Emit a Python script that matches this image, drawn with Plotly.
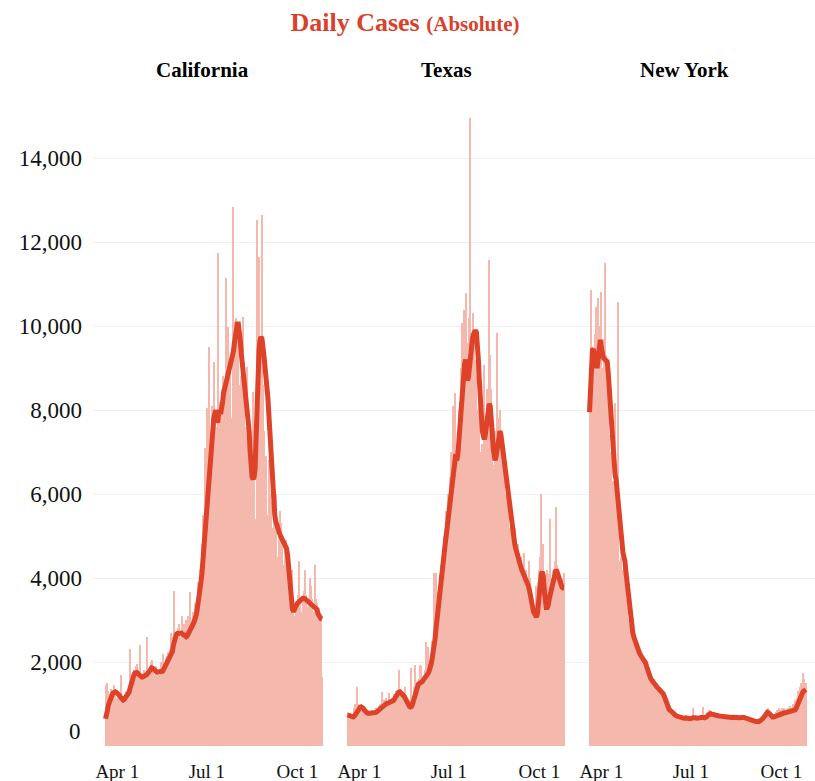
import pandas as pd
import plotly.graph_objects as go

# ---------------- data: daily new cases and 7-day average, from 2020-03-20 ----------------
START_DATE = "2020-03-20"
STATES = ["California", "Texas", "New York"]
TICK_DATES = ["2020-04-01", "2020-07-01", "2020-10-01"]
TICK_TEXT = ["Apr 1", "Jul 1", "Oct 1"]
Y_TICKS = [0, 2000, 4000, 6000, 8000, 10000, 12000, 14000]

ca_daily = [
    1400, 1450, 1500, 1300, 1200, 1250, 1350, 1200, 1100, 1450,
    1300, 1150, 1000, 1250, 1150, 1050, 1700, 1100, 950, 1200,
    1250, 1300, 1150, 1300, 1350, 2300, 1500, 1400, 1650, 1800,
    1550, 1900, 1950, 1700, 1500, 2400, 1600, 1400, 1700, 1800,
    1550, 1750, 2600, 1700, 1500, 1900, 2000, 2050, 1850, 1700,
    1600, 1900, 1800, 1750, 1600, 1700, 2000, 1850, 2200, 1900,
    1800, 2100, 2150, 2000, 2250, 2100, 2300, 2700, 2500, 2600,
    3700, 2600, 2700, 2500, 2800, 2900, 2400, 2600, 3100, 2700,
    2900, 2800, 3000, 2700, 3100, 2900, 3670, 2900, 3000, 3200,
    2800, 3400, 3300, 3500, 3900, 3700, 4200, 4100, 4800, 5500,
    5200, 7100, 6000, 8050, 6500, 9500, 7200, 6400, 8100, 7500,
    9140, 8000, 7600, 6800, 11740, 8200, 7800, 7000, 8500, 8800,
    7900, 8300, 11140, 8800, 9980, 8500, 8400, 9000, 7800, 5800,
    12830, 9800, 10100, 10200, 9500, 9900, 8600, 8300, 8800, 9100,
    10210, 8200, 7600, 7200, 9020, 7500, 6800, 5500, 6600, 7000,
    8430, 6300, 5400, 5200, 12520, 9500, 11640, 8000, 9200, 12640,
    8600, 7500, 6000, 6900, 5500, 5100, 6800, 6000, 5800, 5200,
    4800, 6100, 5900, 6000, 4500, 4200, 5000, 5600, 5300, 4800,
    4300, 4000, 4700, 4900, 4600, 4200, 3800, 3600, 3200, 3100,
    4200, 3500, 3100, 3000, 3400, 3300, 3600, 4400, 3500, 3200,
    3000, 3500, 3700, 4190, 3600, 3300, 3100, 3400, 4000, 3800,
    3500, 3200, 3100, 4310, 3500, 3400, 2900, 3200, 3100, 3000,
    1640,
]
ca_avg = [
    650, 720, 850, 980, 1060, 1120, 1180, 1230, 1270, 1290,
    1290, 1280, 1265, 1245, 1210, 1170, 1130, 1105, 1095, 1110,
    1140, 1170, 1200, 1220, 1280, 1380, 1480, 1570, 1640, 1700,
    1740, 1760, 1750, 1720, 1690, 1665, 1650, 1640, 1645, 1655,
    1665, 1680, 1700, 1730, 1770, 1810, 1840, 1860, 1850, 1820,
    1790, 1770, 1760, 1760, 1760, 1760, 1760, 1770, 1780, 1820,
    1870, 1920, 1960, 2000, 2060, 2100, 2150, 2200, 2250, 2400,
    2550, 2620, 2660, 2680, 2690, 2700, 2700, 2690, 2670, 2650,
    2630, 2610, 2600, 2620, 2680, 2740, 2780, 2810, 2850, 2900,
    2950, 3000, 3100, 3220, 3350, 3550, 3750, 3900, 4100, 4400,
    4700, 5000, 5300, 5700, 6100, 6500, 6700, 6900, 7200, 7600,
    7800, 7900, 8000, 7800, 7700, 7900, 8000, 7900, 8000, 8200,
    8400, 8500, 8500, 8600, 8800, 8900, 9000, 9100, 9200, 9300,
    9400, 9600, 9800, 9950, 10050, 10050, 9900, 9650, 9350, 9100,
    8900, 8750, 8650, 8400, 8150, 7900, 7500, 7000, 6600, 6400,
    6350, 6400, 6600, 7400, 8400, 9000, 9400, 9650, 9740, 9700,
    9550, 9300, 9050, 8850, 8700, 8300, 7900, 7450, 6900, 6400,
    6000, 5700, 5500, 5350, 5250, 5150, 5100, 5050, 5000, 4950,
    4900, 4850, 4800, 4750, 4700, 4550, 4250, 3850, 3500, 3350,
    3250, 3200, 3250, 3350, 3380, 3400, 3420, 3450, 3480, 3500,
    3510, 3520, 3520, 3500, 3480, 3460, 3440, 3420, 3400, 3380,
    3370, 3360, 3340, 3320, 3300, 3250, 3150, 3080, 3050, 3030,
    3020,
]

tx_daily = [
    800, 750, 780, 700, 650, 720, 760, 900, 1000, 850,
    1400, 1000, 950, 880, 1000, 950, 850, 800, 750, 820,
    800, 760, 800, 780, 740, 850, 800, 700, 820, 900,
    860, 850, 950, 1000, 920, 1290, 950, 1100, 1000, 1150,
    1050, 950, 1260, 1100, 1000, 1150, 1100, 1250, 1200, 1300,
    1200, 1250, 1810, 1300, 1350, 1200, 1100, 1050, 1400, 1000,
    900, 1100, 950, 620, 1100, 1860, 1000, 1200, 1400, 1930,
    1300, 1500, 1400, 1600, 1930, 1900, 1500, 1400, 1700, 1800,
    2480, 1700, 2360, 1800, 2000, 1900, 2500, 2400, 4120, 2600,
    4120, 3300, 3700, 3500, 4100, 4300, 3800, 4500, 5000, 4800,
    5600, 5200, 6000, 5500, 6400, 7000, 6200, 8100, 6500, 8400,
    6700, 5800, 7400, 8000, 8200, 9000, 10070, 8700, 10380, 9500,
    10780, 9600, 8000, 10190, 14950, 10000, 9200, 9600, 10300, 9800,
    8800, 9200, 8000, 7600, 9000, 7000, 6500, 7200, 6000, 9070,
    7400, 6500, 8500, 7800, 11570, 9300, 8500, 7200, 6000, 6700,
    7500, 6200, 9830, 7800, 7000, 8000, 7400, 6500, 7100, 6800,
    5900, 6000, 6500, 5600, 5200, 5000, 5300, 5500, 4600, 4900,
    5200, 4500, 4300, 4800, 4600, 4200, 4500, 3900, 4300, 4600,
    3800, 4200, 4000, 3600, 4400, 4000, 3500, 3700, 3200, 3400,
    3000, 3300, 3800, 3600, 3900, 4200, 4500, 6000, 4400, 4800,
    3700, 3500, 3900, 4200, 4100, 3800, 5400, 4000, 3600, 4200,
    4000, 4400, 5700, 4300, 4100, 3900, 3430, 3800, 4000, 3700,
    4120,
]
tx_avg = [
    740, 730, 720, 710, 700, 690, 690, 710, 750, 800,
    850, 890, 910, 925, 930, 925, 900, 860, 820, 795,
    785, 775, 775, 775, 775, 780, 780, 780, 790, 800,
    820, 840, 860, 880, 900, 930, 960, 980, 1000, 1010,
    1020, 1020, 1030, 1040, 1050, 1050, 1060, 1090, 1130, 1180,
    1220, 1260, 1280, 1290, 1280, 1250, 1220, 1200, 1170, 1120,
    1060, 1000, 960, 940, 930, 940, 990, 1080, 1200, 1300,
    1380, 1440, 1470, 1490, 1500, 1510, 1530, 1570, 1600, 1620,
    1640, 1680, 1730, 1790, 1850, 1950, 2080, 2200, 2350, 2550,
    2800, 3050, 3300, 3550, 3750, 3950, 4150, 4350, 4550, 4750,
    4950, 5150, 5350, 5550, 5750, 5950, 6150, 6350, 6600, 6850,
    6950, 6800, 6900, 7200, 7600, 8000, 8300, 8500, 8800, 9100,
    9200, 9000, 8700, 8800, 9100, 9400, 9600, 9700, 9800, 9850,
    9900, 9850, 9600, 9200, 8700, 8200, 7800, 7500, 7400, 7300,
    7400, 7600, 7900, 8100, 8150, 8100, 7900, 7500, 7100, 6900,
    6800, 6900, 7100, 7300, 7450, 7500, 7400, 7200, 7000, 6800,
    6700, 6500, 6300, 6100, 5900, 5700, 5500, 5300, 5100, 4950,
    4800, 4700, 4600, 4500, 4400, 4300, 4250, 4200, 4150, 4100,
    4050, 4000, 3950, 3900, 3800, 3700, 3550, 3400, 3300, 3200,
    3150, 3100, 3070, 3150, 3400, 3700, 4000, 4100, 4150, 4050,
    3700, 3400, 3300, 3300, 3350, 3500, 3650, 3750, 3800, 3900,
    4050, 4150, 4200, 4150, 4050, 3950, 3880, 3800, 3780, 3760,
    3760,
]

ny_daily = [
    8200, 8900, 10860, 9500, 8300, 9000, 9800, 10450, 9600, 10670,
    10000, 9200, 10800, 8400, 9000, 9700, 11500, 9300, 8900, 8200,
    7400, 6500, 7000, 5800, 6300, 5600, 8170, 6200, 5900, 10570,
    4400, 4000, 4500, 3800, 4200, 3700, 4100, 3500, 3300, 3000,
    2900, 2760, 2600, 2500, 2700, 2400, 2300, 2500, 2200, 2000,
    2300, 2100, 1900, 2200, 1900, 2000, 1800, 2000, 1760, 1600,
    1250, 1760, 1600, 1400, 1500, 1300, 1600, 1400, 1350, 1500,
    1200, 1400, 1250, 1150, 1300, 1100, 1200, 1050, 900, 1000,
    850, 900, 800, 750, 850, 700, 750, 700, 650, 750,
    700, 620, 700, 650, 600, 700, 680, 620, 750, 650,
    600, 580, 650, 700, 620, 900, 680, 650, 600, 700,
    620, 650, 700, 750, 680, 930, 650, 620, 700, 800,
    750, 850, 800, 700, 760, 750, 700, 800, 720, 760,
    700, 680, 750, 700, 650, 720, 680, 700, 650, 720,
    700, 650, 700, 680, 650, 720, 700, 680, 650, 700,
    680, 650, 700, 660, 640, 700, 720, 680, 650, 700,
    640, 620, 680, 630, 600, 650, 580, 600, 560, 620,
    540, 600, 580, 620, 650, 700, 680, 750, 800, 850,
    780, 900, 750, 700, 680, 740, 650, 720, 760, 700,
    800, 850, 780, 900, 820, 850, 900, 780, 900, 850,
    800, 880, 900, 850, 950, 900, 850, 1000, 950, 1100,
    1000, 1150, 1300, 1250, 1400, 1500, 1300, 1740, 1600, 1380,
    1500,
]
ny_avg = [
    7950, 8500, 9100, 9430, 9450, 9300, 9150, 9050, 9050, 9300,
    9600, 9670, 9500, 9300, 9250, 9220, 9200, 9200, 9150, 8900,
    8500, 8100, 7700, 7200, 6800, 6500, 6450, 6350, 6100, 5700,
    5400, 5100, 4900, 4750, 4600, 4500, 4400, 4150, 3900, 3650,
    3400, 3200, 3000, 2850, 2700, 2600, 2520, 2450, 2380, 2300,
    2250, 2200, 2160, 2120, 2090, 2060, 2040, 1980, 1900, 1800,
    1720, 1660, 1620, 1580, 1540, 1500, 1470, 1440, 1410, 1390,
    1370, 1350, 1330, 1300, 1270, 1240, 1180, 1100, 1030, 960,
    910, 870, 850, 820, 800, 780, 760, 740, 720, 710,
    690, 680, 675, 670, 665, 660, 660, 665, 670, 665,
    660, 650, 645, 650, 660, 670, 680, 680, 670, 660,
    655, 660, 670, 680, 690, 690, 680, 670, 670, 690,
    720, 750, 770, 770, 760, 750, 750, 745, 740, 735,
    730, 720, 715, 710, 705, 700, 700, 695, 690, 690,
    690, 685, 680, 680, 680, 685, 690, 690, 685, 680,
    680, 675, 670, 670, 670, 675, 680, 680, 675, 670,
    665, 660, 650, 640, 630, 620, 610, 600, 590, 580,
    575, 575, 580, 590, 600, 620, 650, 680, 720, 760,
    790, 800, 790, 760, 720, 700, 690, 690, 700, 710,
    730, 750, 760, 770, 775, 780, 785, 790, 790, 790,
    795, 800, 800, 805, 810, 810, 815, 820, 830, 860,
    900, 960, 1030, 1100, 1160, 1220, 1260, 1290, 1310, 1330,
    1340,
]

DAILY = [ca_daily, tx_daily, ny_daily]
AVERAGE = [ca_avg, tx_avg, ny_avg]

# ---------------- styling ----------------
SERIF = "Liberation Serif, Times New Roman, serif"
BAR_COLOR = "#F5B8AD"
LINE_COLOR = "#DE4329"
TITLE_RED = "#D9412B"
TEXT = "#111111"
GRID = "#F0F0F0"

W, H = 815, 781
M_L, M_R, M_T, M_B = 93, 0, 116, 35
PLOT_W = W - M_L - M_R
PANEL_W = 242
PX_PER_DAY = 0.984

start = pd.Timestamp(START_DATE)
left_edge = start - pd.Timedelta(days=12.5 / PX_PER_DAY)

fig = go.Figure()
axis_names = ["x", "x2", "x3"]
for i, name in enumerate(STATES):
    daily = DAILY[i]
    avg = AVERAGE[i]
    d_dates = pd.date_range(START_DATE, periods=len(daily), freq="D")
    a_dates = pd.date_range(START_DATE, periods=len(avg), freq="D")
    fig.add_trace(go.Bar(
        x=d_dates, y=daily, xaxis=axis_names[i], yaxis="y",
        width=86400000, marker=dict(color=BAR_COLOR, line=dict(width=0)),
        hoverinfo="skip", showlegend=False,
    ))
    fig.add_trace(go.Scatter(
        x=a_dates, y=avg, xaxis=axis_names[i], yaxis="y", mode="lines",
        line=dict(color=LINE_COLOR, width=5),
        hoverinfo="skip", showlegend=False,
    ))

xaxis_common = dict(
    type="date", tickmode="array", tickvals=TICK_DATES, ticktext=TICK_TEXT,
    showgrid=False, zeroline=False, showline=False, ticks="",
    tickfont=dict(family=SERIF, size=19, color=TEXT),
    ticklabelstandoff=12, automargin=False, fixedrange=True,
)
layout_axes = {}
for i in range(3):
    x0 = i * PANEL_W / PLOT_W
    x1 = min(1.0, (i + 1) * PANEL_W / PLOT_W)
    width_px = (x1 - x0) * PLOT_W
    right_edge = left_edge + pd.Timedelta(days=width_px / PX_PER_DAY)
    key = "xaxis" if i == 0 else f"xaxis{i + 1}"
    layout_axes[key] = dict(
        xaxis_common, domain=[x0, x1], anchor="y",
        range=[str(left_edge), str(right_edge)],
    )

fig.update_layout(
    template="none",
    width=W, height=H,
    margin=dict(l=M_L, r=M_R, t=M_T, b=M_B, pad=0),
    paper_bgcolor="white", plot_bgcolor="white",
    bargap=0, showlegend=False,
    font=dict(family=SERIF, color=TEXT),
    title=dict(
        text="<b>Daily Cases</b> <b><span style='font-size:21px'>(Absolute)</span></b>",
        x=405 / W, xanchor="center", xref="container",
        y=1 - 22 / H, yanchor="middle", yref="container",
        font=dict(family=SERIF, size=26, color=TITLE_RED),
    ),
    yaxis=dict(
        range=[0, 15000], tickmode="array", tickvals=Y_TICKS,
        ticktext=[""] + [f"{v:,}" for v in Y_TICKS[1:]],
        showgrid=True, gridcolor=GRID, gridwidth=1,
        zeroline=False, showline=False, ticks="",
        tickfont=dict(family=SERIF, size=23, color=TEXT),
        ticklabelstandoff=10, automargin=False, fixedrange=True,
        anchor="x",
    ),
    **layout_axes,
)

# zero label sits flush above the baseline
fig.add_annotation(
    text="0", xref="paper", x=0, yref="y", y=0,
    xanchor="right", yanchor="bottom", xshift=-10, showarrow=False,
    font=dict(family=SERIF, size=23, color=TEXT),
)

# panel headings
title_centers = [202, 446, 684]
for name, cx in zip(STATES, title_centers):
    fig.add_annotation(
        text=f"<b>{name}</b>", xref="paper", x=(cx - M_L) / PLOT_W,
        yref="paper", y=1 + 46 / (H - M_T - M_B), xanchor="center",
        yanchor="middle", showarrow=False,
        font=dict(family=SERIF, size=21, color="#000000"),
    )

fig.write_html("out.html")
